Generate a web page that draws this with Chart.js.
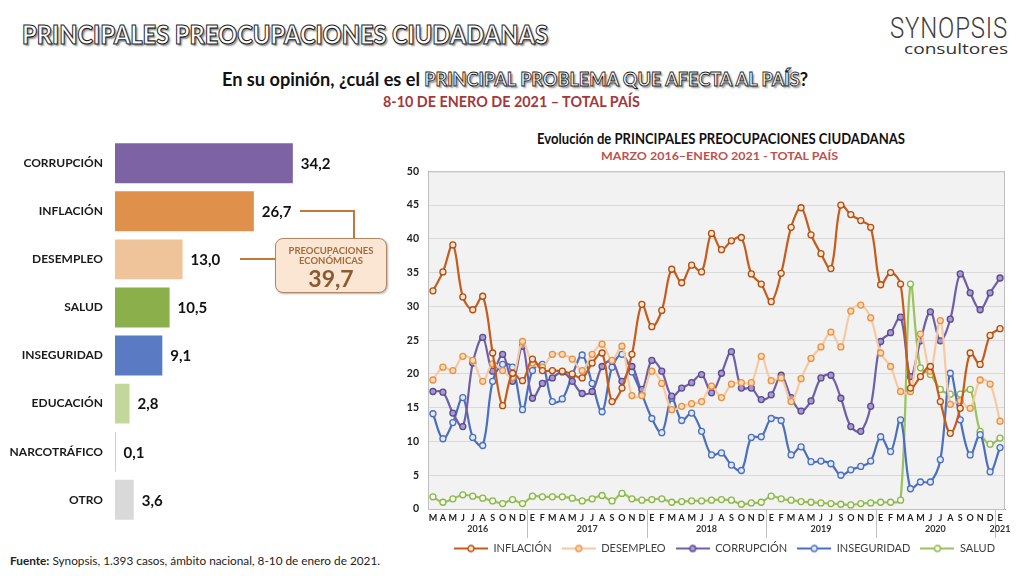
<!DOCTYPE html>
<html lang="es">
<head>
<meta charset="utf-8">
<script src="https://cdn.jsdelivr.net/npm/chart.js@4.4.0/dist/chart.umd.min.js"></script>
<style>
  body { margin: 0; width: 1024px; height: 576px; position: relative; overflow: hidden; background: #fff; font-family: Lato, 'Open Sans', sans-serif; }
  .abs { position: absolute; white-space: nowrap; line-height: 1; }
  .fit { transform-origin: left top; }
  .contorno { color: #fff; -webkit-text-stroke: 1.1px #1e1e1e; text-shadow: 2px 2px 2px rgba(0,0,0,0.45); }
  #titulo { left: 22px; top: 20px; font-size: 27px; font-weight: 900; }
  #pregunta { left: 222px; top: 69px; font-size: 19px; font-weight: 700; color: #111; }
  #fecha { left: 383px; top: 94px; font-size: 15px; font-weight: 700; color: #A2393A; }
  #logo { left: 890px; top: 14px; font-size: 29px; font-family: Roboto, 'Open Sans', sans-serif; font-weight: 300; color: #404040; letter-spacing: 1px; }
  #consultores { left: 904px; top: 41px; font-size: 15px; font-family: 'Open Sans', sans-serif; color: #333; }
  #tituloLinea { left: 537px; top: 132px; font-size: 14.5px; font-weight: 700; color: #111; }
  #subLinea { left: 601px; top: 150px; font-size: 12px; font-weight: 700; color: #C0504D; }
  #fuente { left: 10px; top: 555px; font-size: 12px; color: #222; }
  #barras { position: absolute; left: 0; top: 120px; }
  #lineas { position: absolute; left: 380px; top: 156px; }
  .conector { position: absolute; background: #C4773A; }
  #caja { position: absolute; left: 275px; top: 238px; width: 112px; height: 55px; box-sizing: border-box;
          border: 1.5px solid #B08664; border-radius: 8px; background: #FBE6D4; box-shadow: 1px 1px 2px rgba(0,0,0,0.3);
          text-align: center; color: #A06C3C; font-weight: 700; }
  #caja .t { font-size: 9.5px; line-height: 10px; }
  #caja .n { font-size: 23px; line-height: 24px; color: #8B5A2E; }
</style>
</head>
<body>
<div id="titulo" class="abs fit contorno" data-w="526">PRINCIPALES PREOCUPACIONES CIUDADANAS</div>
<div id="pregunta" class="abs fit" data-w="586">En su opinión, ¿cuál es el <span class="contorno" style="-webkit-text-stroke:0.9px #1e1e1e">PRINCIPAL PROBLEMA QUE AFECTA AL PAÍS</span>?</div>
<div id="fecha" class="abs fit" data-w="257">8-10 DE ENERO DE 2021 – TOTAL PAÍS</div>
<div id="logo" class="abs fit" data-w="118">SYNOPSIS</div>
<div id="consultores" class="abs fit" data-w="104">consultores</div>
<div id="tituloLinea" class="abs fit" data-w="368">Evolución de PRINCIPALES PREOCUPACIONES CIUDADANAS</div>
<div id="subLinea" class="abs fit" data-w="237">MARZO 2016–ENERO 2021 - TOTAL PAÍS</div>
<div id="fuente" class="abs fit" data-w="370"><b>Fuente:</b> Synopsis, 1.393 casos, ámbito nacional, 8-10 de enero de 2021.</div>

<canvas id="barras" width="427" height="423"></canvas>
<canvas id="lineas" width="640" height="408"></canvas>

<div class="conector" style="left:300px; top:210px; width:55px; height:2px;"></div>
<div class="conector" style="left:353px; top:210px; width:2px; height:29px;"></div>
<div class="conector" style="left:240px; top:258px; width:36px; height:2px;"></div>
<div id="caja">
  <div class="t" style="margin-top:7px">PREOCUPACIONES</div>
  <div class="t">ECONÓMICAS</div>
  <div class="n">39,7</div>
</div>

<script>
// barras: enero 2021
const categorias = ['CORRUPCIÓN', 'INFLACIÓN', 'DESEMPLEO', 'SALUD', 'INSEGURIDAD', 'EDUCACIÓN', 'NARCOTRÁFICO', 'OTRO'];
const valores = [34.2, 26.7, 13.0, 10.5, 9.1, 2.8, 0.1, 3.6];
const coloresBarras = ['#7D63A4', '#DF904B', '#F0C49B', '#8BAF4B', '#5A7BC4', '#C4D79B', '#404040', '#D9D9D9'];

// evolución mensual, marzo 2016 - enero 2021
const meses = [
  'M','A','M','J','J','A','S','O','N','D',
  'E','F','M','A','M','J','J','A','S','O','N','D',
  'E','F','M','A','M','J','J','A','S','O','N','D',
  'E','F','M','A','M','J','J','S','O','N','D',
  'E','F','M','A','M','J','J','A','S','O','N','D',
  'E'
];
const anios = ['2016', '2017', '2018', '2019', '2020', '2021'];
const mesesPorAnio = [10, 12, 12, 11, 12, 1];

const inflacion = [
  32.3, 35.1, 39.1, 31.4, 29.5, 31.5, 23.1, 15.3, 20.1, 19.0,
  22.2, 20.5, 20.5, 20.4, 20.0, 19.4, 21.6, 23.1, 15.9, 17.9, 22.9, 30.3,
  27.0, 29.4, 35.5, 33.5, 36.1, 35.1, 40.8, 38.4, 39.7, 40.2, 34.8, 33.3,
  30.7, 34.9, 41.7, 44.6, 40.6, 37.8, 35.6, 45.0, 43.6, 42.7, 41.7,
  33.2, 35.0, 33.3, 17.9, 19.6, 21.1, 15.9, 11.2, 14.9, 23.1, 21.4, 25.7,
  26.7
];
const desempleo = [
  19.1, 21.0, 20.5, 22.6, 22.0, 18.9, 21.5, 20.5, 19.5, 24.8,
  21.6, 21.0, 22.9, 22.9, 22.2, 20.5, 22.9, 24.4, 22.0, 24.1, 16.8, 16.8,
  20.4, 18.6, 14.7, 15.2, 15.6, 15.9, 18.2, 16.5, 18.5, 18.7, 18.7, 22.6,
  19.0, 19.4, 15.9, 19.3, 22.3, 24.0, 26.2, 24.0, 29.3, 30.2, 28.3,
  23.1, 21.1, 17.4, 17.4, 25.9, 20.4, 27.9, 15.5, 16.0, 14.9, 19.1, 18.5,
  13.0
];
const corrupcion = [
  17.4, 17.3, 14.2, 12.2, 21.6, 25.4, 20.4, 22.9, 18.9, 24.1,
  16.4, 18.6, 19.4, 20.3, 18.9, 17.1, 17.4, 21.1, 21.9, 18.9, 21.1, 17.7,
  22.0, 20.4, 16.7, 17.9, 18.7, 19.9, 17.2, 20.1, 23.3, 17.9, 17.9, 16.2,
  16.9, 19.8, 16.5, 14.5, 16.0, 19.4, 19.8, 16.4, 12.2, 11.5, 15.2,
  24.8, 26.1, 28.4, 19.6, 24.9, 29.2, 24.9, 28.1, 34.8, 32.0, 29.5, 32.0,
  34.2
];
const inseguridad = [
  14.1, 10.4, 12.8, 16.5, 10.6, 9.4, 18.9, 21.4, 21.0, 14.7,
  20.5, 21.4, 15.9, 16.3, 19.8, 22.8, 18.6, 14.4, 21.0, 22.9, 20.3, 17.0,
  13.4, 11.3, 16.4, 13.1, 14.2, 11.5, 8.0, 8.3, 6.5, 5.7, 10.6, 10.7,
  13.4, 13.1, 8.0, 9.2, 7.0, 7.1, 6.7, 5.0, 5.8, 6.3, 7.1,
  10.7, 8.5, 13.2, 3.0, 4.0, 4.0, 7.3, 20.1, 13.2, 8.0, 11.0, 5.5,
  9.1
];
const salud = [
  1.8, 1.0, 1.5, 2.1, 1.9, 1.6, 1.2, 0.8, 1.4, 0.8,
  1.9, 1.8, 1.8, 1.8, 1.6, 1.2, 1.5, 2.0, 1.2, 2.3, 1.5, 1.3,
  1.4, 1.5, 1.0, 1.1, 1.2, 1.2, 1.3, 1.4, 1.3, 0.7, 0.9, 1.0,
  1.9, 1.5, 1.3, 1.1, 1.0, 0.9, 0.8, 0.7, 0.6, 0.8, 0.9,
  1.0, 1.0, 1.3, 33.3, 20.9, 19.9, 17.7, 17.0, 17.0, 17.7, 11.5, 9.6,
  10.5
];

// ajusta el ancho de los textos al original
document.querySelectorAll('.fit').forEach(el => {
  const w = el.getBoundingClientRect().width;
  el.style.transform = 'scaleX(' + (parseFloat(el.dataset.w) / w) + ')';
});

const etiquetasBarras = {
  id: 'etiquetasBarras',
  afterDatasetsDraw(chart) {
    const ctx = chart.ctx;
    ctx.save();
    ctx.font = 'bold 15px Lato';
    ctx.fillStyle = '#111';
    ctx.textBaseline = 'middle';
    chart.getDatasetMeta(0).data.forEach((bar, i) => {
      ctx.fillText(valores[i].toFixed(1).replace('.', ','), bar.x + 8, bar.y + 1);
    });
    ctx.restore();
  }
};

new Chart(document.getElementById('barras'), {
  type: 'bar',
  data: {
    labels: categorias,
    datasets: [{
      data: valores,
      backgroundColor: coloresBarras,
      borderColor: '#404040',
      borderWidth: c => c.dataIndex === 6 ? 1 : 0,
      borderSkipped: false,
      barPercentage: 0.83,
      categoryPercentage: 1
    }]
  },
  options: {
    indexAxis: 'y',
    responsive: false,
    animation: false,
    layout: { padding: 0 },
    plugins: { legend: { display: false }, tooltip: { enabled: false } },
    scales: {
      x: { display: false, min: 0, max: 60 },
      y: {
        grid: { display: false, drawTicks: false },
        border: { display: false },
        ticks: { color: '#1a1a1a', padding: 12, font: { family: 'Lato', size: 12, weight: 'bold' } },
        afterFit: s => { s.width = 115; }
      }
    }
  },
  plugins: [etiquetasBarras]
});

function muestra(linea, borde, relleno) {
  const c = document.createElement('canvas');
  c.width = 34; c.height = 10;
  const g = c.getContext('2d');
  g.strokeStyle = linea; g.lineWidth = 2;
  g.beginPath(); g.moveTo(0, 5); g.lineTo(34, 5); g.stroke();
  g.beginPath(); g.arc(17, 5, 3, 0, Math.PI * 2);
  g.fillStyle = relleno; g.fill();
  g.strokeStyle = borde; g.lineWidth = 1.3; g.stroke();
  return c;
}

const series = [
  { label: 'INFLACIÓN', data: inflacion, linea: '#C65B1A', borde: '#AE4F14', relleno: '#FBE3CC' },
  { label: 'DESEMPLEO', data: desempleo, linea: '#F7C9A0', borde: '#E8913F', relleno: '#FBD9B8' },
  { label: 'CORRUPCIÓN', data: corrupcion, linea: '#6F5FA8', borde: '#5A4A90', relleno: '#A899D0' },
  { label: 'INSEGURIDAD', data: inseguridad, linea: '#4A6FBE', borde: '#4A6FBE', relleno: '#E3EAF6' },
  { label: 'SALUD', data: salud, linea: '#9BC25B', borde: '#8DB54B', relleno: '#F4F9EA' }
];
const muestras = series.map(s => muestra(s.linea, s.borde, s.relleno));

const fondoGrafico = {
  id: 'fondoGrafico',
  beforeDraw(chart) {
    const { ctx, chartArea: a } = chart;
    ctx.save();
    ctx.fillStyle = '#F2F2F2';
    ctx.fillRect(a.left, a.top, a.right - a.left, a.bottom - a.top);
    ctx.restore();
  },
  beforeDatasetsDraw(chart) {
    const { ctx, chartArea: a } = chart;
    ctx.save();
    ctx.strokeStyle = '#BFBFBF';
    ctx.lineWidth = 1;
    ctx.strokeRect(a.left + 0.5, a.top + 0.5, a.right - a.left - 1, a.bottom - a.top);
    ctx.restore();
  }
};

const rotulosAnios = {
  id: 'rotulosAnios',
  afterDraw(chart) {
    const { ctx, chartArea: a, scales: { x } } = chart;
    ctx.save();
    ctx.font = 'bold 9px Lato';
    ctx.fillStyle = '#333';
    ctx.textAlign = 'center';
    ctx.textBaseline = 'middle';
    ctx.strokeStyle = '#BFBFBF';
    ctx.lineWidth = 1;
    let inicio = 0;
    mesesPorAnio.forEach((n, k) => {
      const fin = inicio + n - 1;
      const centro = (x.getPixelForValue(inicio) + x.getPixelForValue(fin)) / 2;
      ctx.fillText(anios[k], centro, a.bottom + 20);
      if (k < anios.length - 1) {
        const sep = Math.round((x.getPixelForValue(fin) + x.getPixelForValue(fin + 1)) / 2) + 0.5;
        ctx.beginPath(); ctx.moveTo(sep, a.bottom); ctx.lineTo(sep, a.bottom + 29); ctx.stroke();
      }
      inicio += n;
    });
    ctx.restore();
  }
};

new Chart(document.getElementById('lineas'), {
  type: 'line',
  data: {
    labels: meses,
    datasets: series.map(s => ({
      label: s.label,
      data: s.data,
      borderColor: s.linea,
      backgroundColor: s.linea,
      borderWidth: 2.2,
      tension: 0.35,
      pointRadius: 3,
      pointBorderWidth: 1.3,
      pointBorderColor: s.borde,
      pointBackgroundColor: s.relleno
    }))
  },
  options: {
    responsive: false,
    animation: false,
    layout: { padding: { top: 0, right: 15, bottom: 0, left: 0 } },
    plugins: {
      tooltip: { enabled: false },
      legend: {
        position: 'bottom',
        align: 'end',
        labels: {
          usePointStyle: true,
          pointStyleWidth: 34,
          padding: 10,
          color: '#404040',
          font: { family: 'Lato', size: 11 },
          generateLabels: chart => chart.data.datasets.map((ds, i) => ({
            text: ds.label,
            pointStyle: muestras[i],
            fillStyle: ds.borderColor,
            strokeStyle: ds.borderColor,
            lineWidth: 0,
            hidden: false,
            datasetIndex: i,
            fontColor: '#404040'
          }))
        }
      }
    },
    scales: {
      x: {
        offset: true,
        grid: { display: false, drawTicks: false },
        border: { color: '#A6A6A6' },
        ticks: { autoSkip: false, maxRotation: 0, minRotation: 0, padding: 4, color: '#222', font: { family: 'Lato', size: 9, weight: 'bold' } },
        afterFit: s => { s.height = 24; }
      },
      y: {
        min: 0, max: 50,
        grid: { color: '#D9D9D9', drawTicks: false },
        border: { color: '#A6A6A6' },
        ticks: { stepSize: 5, padding: 9, color: '#222', font: { family: 'Lato', size: 10.5, weight: 'bold' } },
        afterFit: s => { s.width = 48; }
      }
    }
  },
  plugins: [fondoGrafico, rotulosAnios]
});
</script>
</body>
</html>
